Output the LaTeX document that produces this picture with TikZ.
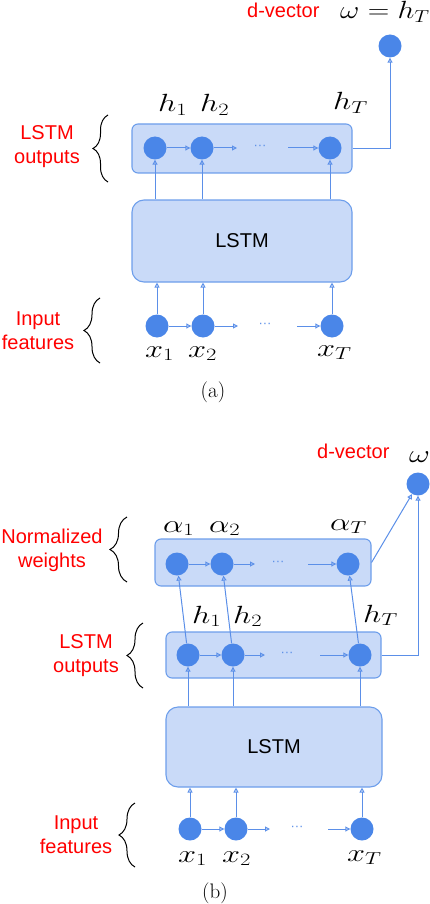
\documentclass[tikz,border=0pt]{standalone}
\usepackage{fontspec}
\newfontfamily\sansf{Liberation Sans}
\usetikzlibrary{arrows.meta,decorations.pathreplacing}
\definecolor{cblue}{HTML}{4A86E8}
\definecolor{lblue}{HTML}{C9DAF8}
\definecolor{bblue}{HTML}{6D9EEB}
\definecolor{lineblue}{HTML}{5B8FE8}
\definecolor{lab red}{HTML}{FF0000}
\newcommand{\mx}[2][1.3]{\scalebox{#1}[1]{$#2$}}
\begin{document}
\begin{tikzpicture}[x=1pt,y=-1pt,
  dotn/.style={circle, fill=cblue, minimum size=23pt, inner sep=0pt},
  boxn/.style={draw=bblue, fill=lblue, rounded corners=#1, line width=1.1pt, inner sep=0pt},
  conn/.style={draw=lineblue, line width=1pt, -{Triangle[open,length=5pt,width=5pt]}},
  redlab/.style={text=lab red, font=\sansf\fontsize{20}{24}\selectfont, align=center},
  mlab/.style={font=\fontsize{24}{28}\selectfont, anchor=base west, inner sep=0pt},
  ellip/.style={text=lineblue, font=\sansf\fontsize{13}{13}\selectfont, inner sep=0pt},
  brc/.style={decorate, decoration={brace, amplitude=#1}, line width=1pt},
  capt/.style={font=\fontsize{21}{24}\selectfont},
]
\useasboundingbox (0,0) rectangle (430,904);

%%%%%%%%%%%%%%%%%% (a)
\node[boxn=6pt, minimum width=220pt, minimum height=49pt] (outa) at (242,148.5) {};
\node[boxn=12pt, minimum width=220pt, minimum height=82pt] (lstma) at (242,241) {\sansf\fontsize{20}{24}\selectfont LSTM};

\node[dotn] (ha1) at (155,148) {};
\node[dotn] (ha2) at (202,148) {};
\node[dotn] (haT) at (330,148) {};
\node[ellip] (dotsha) at (260,147) {···};
\coordinate (ha2e) at (237,148);
\coordinate (haTs) at (288,148);

\node[dotn] (xa1) at (157,326) {};
\node[dotn] (xa2) at (203,326) {};
\node[dotn] (xaT) at (332,326) {};
\node[ellip] (dotsxa) at (265,325) {···};
\coordinate (xa2e) at (238,326);
\coordinate (xaTs) at (297,326);

\node[dotn] (wa) at (390,46) {};

\draw[conn] (ha1) -- (ha2);
\draw[conn] (ha2) -- (ha2e);
\draw[conn] (haTs) -- (haT);
\draw[conn] (xa1) -- (xa2);
\draw[conn] (xa2) -- (xa2e);
\draw[conn] (xaTs) -- (xaT);

\foreach \n in {1,2,T}{
  \draw[conn] (lstma.north -| ha\n) -- (ha\n);
  \draw[conn] (xa\n) -- (xa\n |- lstma.south);
}
\draw[conn] (outa.east) -| (wa);

\node[mlab] (lha1) at (158,112) {\mx{h_1}};
\node[mlab] (lha2) at (200,112) {\mx{h_2}};
\node[mlab] (lhaT) at (333,110) {\mx{h_T}};
\node[mlab] (lwa) at (340,19) {\mx[1.2]{\omega = h_T}};
\node[mlab, redlab] (dva) at (247,18) {d-vector};
\node[mlab] (lxa1) at (145,357) {\mx{x_1}};
\node[mlab] (lxa2) at (188,357) {\mx{x_2}};
\node[mlab] (lxaT) at (317,356) {\mx{x_T}};

\node[redlab] (loa) at (47,147) {LSTM\\outputs};
\node[redlab] (lia) at (38,331) {Input\\features};
\draw[brc=15pt] (108,182) -- (108,115);
\draw[brc=16pt] (100,363) -- (100,298);
\node[capt] (capa) at (213,392) {(a)};

%%%%%%%%%%%%%%%%%% (b)
\node[boxn=6pt, minimum width=216pt, minimum height=47pt] (nwb) at (263,562.5) {};
\node[boxn=6pt, minimum width=215pt, minimum height=46pt] (outb) at (273.5,655) {};
\node[boxn=12pt, minimum width=216pt, minimum height=80pt] (lstmb) at (274,747) {\sansf\fontsize{20}{24}\selectfont LSTM};

\node[dotn] (ab1) at (177,564) {};
\node[dotn] (ab2) at (222,564) {};
\node[dotn] (abT) at (348,564) {};
\node[ellip] (dotsab) at (278,563) {···};
\coordinate (ab2e) at (255,564);
\coordinate (abTs) at (308,564);

\node[dotn] (hb1) at (188,655) {};
\node[dotn] (hb2) at (233,655) {};
\node[dotn] (hbT) at (360,655) {};
\node[ellip] (dotshb) at (287,654) {···};
\coordinate (hb2e) at (265,655);
\coordinate (hbTs) at (320,655);

\node[dotn] (xb1) at (190,829) {};
\node[dotn] (xb2) at (236,829) {};
\node[dotn] (xbT) at (362,829) {};
\node[ellip] (dotsxb) at (297,828) {···};
\coordinate (xb2e) at (270,829);
\coordinate (xbTs) at (328,829);

\node[dotn] (wb) at (418,484) {};

\draw[conn] (ab1) -- (ab2);
\draw[conn] (ab2) -- (ab2e);
\draw[conn] (abTs) -- (abT);
\draw[conn] (hb1) -- (hb2);
\draw[conn] (hb2) -- (hb2e);
\draw[conn] (hbTs) -- (hbT);
\draw[conn] (xb1) -- (xb2);
\draw[conn] (xb2) -- (xb2e);
\draw[conn] (xbTs) -- (xbT);

\foreach \n in {1,2,T}{
  \draw[conn] (hb\n) -- (ab\n);
  \draw[conn] (lstmb.north -| hb\n) -- (hb\n);
  \draw[conn] (xb\n) -- (xb\n |- lstmb.south);
}
\draw[conn] (nwb.east) -- (wb);
\draw[conn] (outb.east) -| (wb);

\node[mlab] (lab1) at (163,532) {\mx{\alpha_1}};
\node[mlab] (lab2) at (209,532) {\mx{\alpha_2}};
\node[mlab] (labT) at (330,530) {\mx{\alpha_T}};
\node[mlab] (lhb1) at (192,623) {\mx{h_1}};
\node[mlab] (lhb2) at (233,623) {\mx{h_2}};
\node[mlab] (lhbT) at (363,622) {\mx{h_T}};
\node[mlab] (lwb) at (409,462) {\mx{\omega}};
\node[mlab, redlab] (dvb) at (317,458) {d-vector};
\node[mlab] (lxb1) at (178,862) {\mx{x_1}};
\node[mlab] (lxb2) at (222,862) {\mx{x_2}};
\node[mlab] (lxbT) at (347,861) {\mx{x_T}};

\node[redlab] (lnw) at (52,550) {Normalized\\weights};
\node[redlab] (lob) at (86,656) {LSTM\\outputs};
\node[redlab] (lib) at (76,835) {Input\\features};
\draw[brc=17pt] (127,582) -- (127,517);
\draw[brc=16pt] (143,688) -- (143,623);
\draw[brc=16pt] (135,867) -- (135,803);
\node[capt] (capb) at (215,893) {(b)};
\end{tikzpicture}
\end{document}
